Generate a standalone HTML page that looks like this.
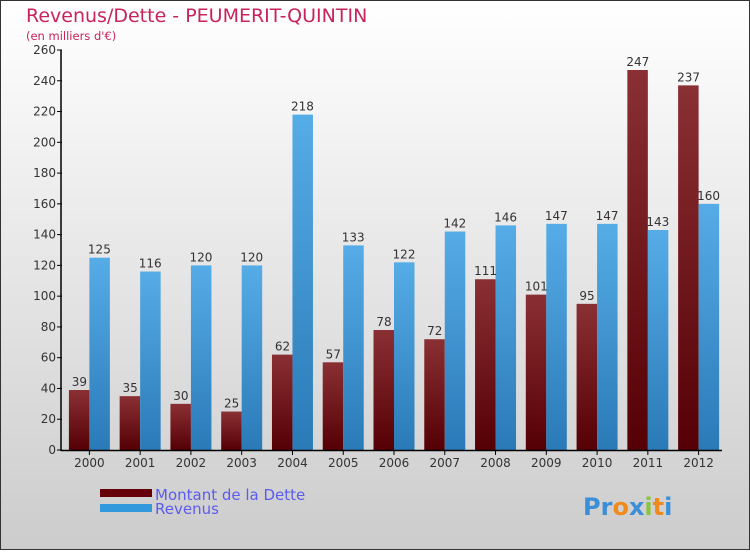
<!DOCTYPE html>
<html><head><meta charset="utf-8"><style>
body{margin:0}
svg text{font-family:"DejaVu Sans","Liberation Sans",sans-serif}
</style></head><body>
<svg width="750" height="550" xmlns="http://www.w3.org/2000/svg">
<defs>
<linearGradient id="bg" x1="0" y1="0" x2="0" y2="1"><stop offset="0" stop-color="#ffffff"/><stop offset="1" stop-color="#cccccc"/></linearGradient>
<linearGradient id="gd" x1="0" y1="0" x2="0" y2="1"><stop offset="0" stop-color="#8a3034"/><stop offset="1" stop-color="#550005"/></linearGradient>
<linearGradient id="gr" x1="0" y1="0" x2="0" y2="1"><stop offset="0" stop-color="#56ace6"/><stop offset="1" stop-color="#2a7ab8"/></linearGradient>
</defs>
<rect x="0.5" y="0.5" width="749" height="549" fill="url(#bg)" stroke="#333"/>
<text x="26" y="22" font-size="19" fill="#c8245a">Revenus/Dette - PEUMERIT-QUINTIN</text>
<text x="26" y="40" font-size="11.5" fill="#c8245a">(en milliers d'€)</text>
<g id="plot"></g>
<rect x="100" y="489" width="52" height="8" fill="#650008"/>
<text x="155" y="500" font-size="15" fill="#5b5bf0">Montant de la Dette</text>
<rect x="100" y="504" width="52" height="8" fill="#3399dd"/>
<text x="155" y="514" font-size="15" fill="#5b5bf0">Revenus</text>
<text x="583" y="515" font-size="24" font-weight="bold"><tspan fill="#3a8fd8">Pr</tspan><tspan fill="#f08a1c">o</tspan><tspan fill="#3a8fd8">x</tspan><tspan fill="#8bc43f">i</tspan><tspan fill="#f08a1c">t</tspan><tspan fill="#3a8fd8">i</tspan></text>
</svg>
<script>
const years=["2000","2001","2002","2003","2004","2005","2006","2007","2008","2009","2010","2011","2012"];
const dette=[39,35,30,25,62,57,78,72,111,101,95,247,237];
const revenus=[125,116,120,120,218,133,122,142,146,147,147,143,160];
const ticks=[0,20,40,60,80,100,120,140,160,180,200,220,240,260];
const NS="http://www.w3.org/2000/svg";
const g=document.getElementById('plot');
const x0=62,x1=722,y0=450,y1=50,maxV=260;
const step=(x1-x0)/years.length;
const y=v=>y0-(y0-y1)*v/maxV;
function mk(t,a,txt){const e=document.createElementNS(NS,t);for(const k in a)e.setAttribute(k,a[k]);if(txt!==undefined)e.textContent=txt;g.appendChild(e);return e;}
ticks.forEach(t=>{
 let l=mk('line',{x1:57,x2:62,y1:y(t),y2:y(t),stroke:'#000'});
 
 
 let tx=mk('text',{x:56,y:y(t)+4,'font-size':12,fill:'#333','text-anchor':'end'},String(t));
 
 
});
years.forEach((yr,i)=>{
 const gx=x0+step*i;const c=gx+step/2+2;
 let d=mk('rect',{x:c-20.5,y:y(dette[i]),width:20.5,height:y0-y(dette[i]),fill:'url(#gd)'});
 
 
 let r=mk('rect',{x:c,y:y(revenus[i]),width:20.5,height:y0-y(revenus[i]),fill:'url(#gr)'});
 
 
 let dl=mk('text',{x:c-10,y:y(dette[i])-4,'font-size':12,fill:'#333','text-anchor':'middle'},String(dette[i]));
 
 
 let rl=mk('text',{x:c+10,y:y(revenus[i])-4,'font-size':12,fill:'#333','text-anchor':'middle'},String(revenus[i]));
 
 
 let tk=mk('line',{x1:c,x2:c,y1:450,y2:455,stroke:'#000'});
 
 
 let xl=mk('text',{x:c,y:467,'font-size':12,fill:'#333','text-anchor':'middle'},yr);
 
 
});
let ax=mk('line',{x1:61,x2:61,y1:50,y2:451,stroke:'#000','stroke-width':1.5});


let bx=mk('line',{x1:61,x2:722,y1:450.5,y2:450.5,stroke:'#000','stroke-width':1.5});


</script>
</body></html>
